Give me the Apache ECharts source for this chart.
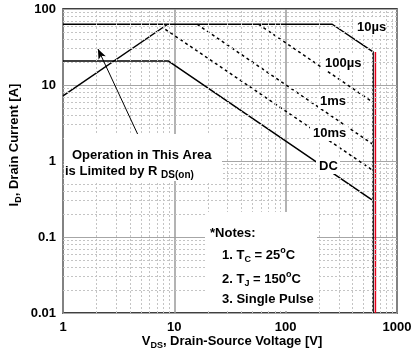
<!DOCTYPE html>
<html>
<head>
<meta charset="utf-8">
<script src="https://cdn.jsdelivr.net/npm/echarts@6/dist/echarts.min.js"></script>
<style>html,body{margin:0;padding:0;background:#fff}#c{width:416px;height:356px}</style>
</head>
<body>
<div id="c"></div>
<script>
// ---- data (V in volts, I in amps) ----
const line10us = [[1, 63], [262, 63], [610, 27.2], [610, 0.01]];
const lineBV = [[640, 27.2], [640, 0.01]];
const line100us = [[57, 63], [610, 5.9]];
const line1ms = [[16, 63], [610, 1.65]];
const line10ms = [[8.3, 54], [610, 0.75]];
const lineDC = [[1, 20.7], [8.8, 20.7], [610, 0.30]];
const lineRds = [[1, 7.2], [8.7, 63]];
const arrowFrom = [4.72, 2.2];
const arrowTo = [2.06, 29.8];
const xMinor = [2,3,4,5,6,7,8,9,20,30,40,50,60,70,80,90,200,300,400,500,600,700,800,900];
const yMinor = [0.02,0.03,0.04,0.05,0.06,0.07,0.08,0.09,0.2,0.3,0.4,0.5,0.6,0.7,0.8,0.9,2,3,4,5,6,7,8,9,20,30,40,50,60,70,80,90];
const xTickLabels = ['1', '10', '100', '1000'];
const yTickLabels = ['0.01', '0.1', '1', '10', '100'];

const FF = '"Liberation Sans", Arial, sans-serif';
const chart = echarts.init(document.getElementById('c'));

function fmt(list) {
  return function (v) {
    const s = String(+Number(v).toPrecision(3));
    return list.indexOf(s) >= 0 ? s : '';
  };
}
const richSub = {
  sub: { fontSize: 9, fontWeight: 'bold', fontFamily: FF, lineHeight: 10, verticalAlign: 'bottom', fill: '#000' },
  sup: { fontSize: 9, fontWeight: 'bold', fontFamily: FF, lineHeight: 10, verticalAlign: 'top', fill: '#000' },
  sub2: { fontSize: 10, fontWeight: 'bold', fontFamily: FF, lineHeight: 11, verticalAlign: 'bottom', fill: '#000' }
};
function txt(text, x, y, opts) {
  opts = opts || {};
  return {
    type: 'text', x: x, y: y, z: 110, rotation: opts.rotation || 0, silent: true,
    style: {
      text: text, x: 0, y: 0, fill: '#000',
      fontSize: opts.fontSize || 13, fontWeight: 'bold', fontFamily: FF,
      lineHeight: 18,
      align: opts.align || 'left', verticalAlign: 'middle',
      textAlign: opts.align || 'left', textVerticalAlign: 'middle',
      rich: richSub
    }
  };
}
function box(x, y, w, h) {
  return { type: 'rect', z: 100, silent: true, shape: { x: x, y: y, width: w, height: h }, style: { fill: '#fff' } };
}
function solid(data, color) {
  return { type: 'line', data: data, showSymbol: false, symbol: 'none', z: 3, silent: true,
    lineStyle: { color: color || '#000', width: 1.5 } };
}
function dashed(data) {
  return { type: 'line', data: data, showSymbol: false, symbol: 'none', z: 3, silent: true,
    lineStyle: { color: '#000', width: 1.5, type: [3, 3] } };
}

const minorStyle = { color: '#c4c4c4', width: 1, type: [2, 2] };

chart.setOption({
  animation: false,
  backgroundColor: '#fff',
  grid: { left: 63, right: 19, top: 9, bottom: 43, show: true, borderColor: '#000', borderWidth: 1.5, backgroundColor: 'transparent' },
  xAxis: {
    type: 'log', logBase: 10, min: 1, max: 1000,
    axisLine: { show: false }, axisTick: { show: false },
    axisLabel: { color: '#000', fontSize: 13, fontWeight: 'bold', fontFamily: FF, margin: 8, formatter: fmt(xTickLabels) },
    splitLine: { show: true, lineStyle: { color: '#9a9a9a', width: 1.5 } }
  },
  yAxis: {
    type: 'log', logBase: 10, min: 0.01, max: 100,
    axisLine: { show: false }, axisTick: { show: false },
    axisLabel: { color: '#000', fontSize: 13, fontWeight: 'bold', fontFamily: FF, margin: 7, formatter: fmt(yTickLabels) },
    splitLine: { show: true, lineStyle: { color: '#a6a6a6', width: 1.2 } }
  },
  series: [
    {
      type: 'line', data: [], z: 1, silent: true, showSymbol: false,
      markLine: {
        silent: true, symbol: 'none', label: { show: false }, animation: false,
        lineStyle: minorStyle,
        data: xMinor.map(v => ({ xAxis: v })).concat(yMinor.map(v => ({ yAxis: v })))
      }
    },
    solid(line10us),
    solid(lineBV, '#e3001b'),
    dashed(line100us),
    dashed(line1ms),
    dashed(line10ms),
    solid(lineDC),
    Object.assign(solid(lineRds), {
      markLine: {
        silent: true, animation: false, symbol: ['none', 'arrow'], symbolSize: [6, 10],
        label: { show: false },
        lineStyle: { color: '#000', width: 1, type: 'solid' },
        data: [[{ coord: arrowFrom }, { coord: arrowTo }]]
      }
    })
  ],
  graphic: [
    box(64, 134, 158, 47),
    box(205, 212, 112, 99),
    box(354, 19, 32, 16),
    box(322, 55, 41, 16),
    box(318, 93, 29, 16),
    box(310, 125, 38, 16),
    box(316, 158, 24, 16),
    txt('10µs', 357, 27),
    txt('100µs', 325, 63),
    txt('1ms', 320, 101),
    txt('10ms', 313, 133),
    txt('DC', 319, 166),
    txt('Operation in This Area', 72, 155),
    txt('is Limited by R {sub2|DS(on)}', 65, 171),
    txt('*Notes:', 210, 233),
    txt('1. T{sub|C} = 25{sup|o}C', 222, 255),
    txt('2. T{sub|J} = 150{sup|o}C', 222, 279),
    txt('3. Single Pulse', 222, 299),
    txt('V{sub|DS}, Drain-Source Voltage [V]', 232, 341, { align: 'center' }),
    txt('I{sub|D}, Drain Current [A]', 14, 145, { align: 'center', rotation: Math.PI / 2 })
  ]
});
</script>
</body>
</html>
